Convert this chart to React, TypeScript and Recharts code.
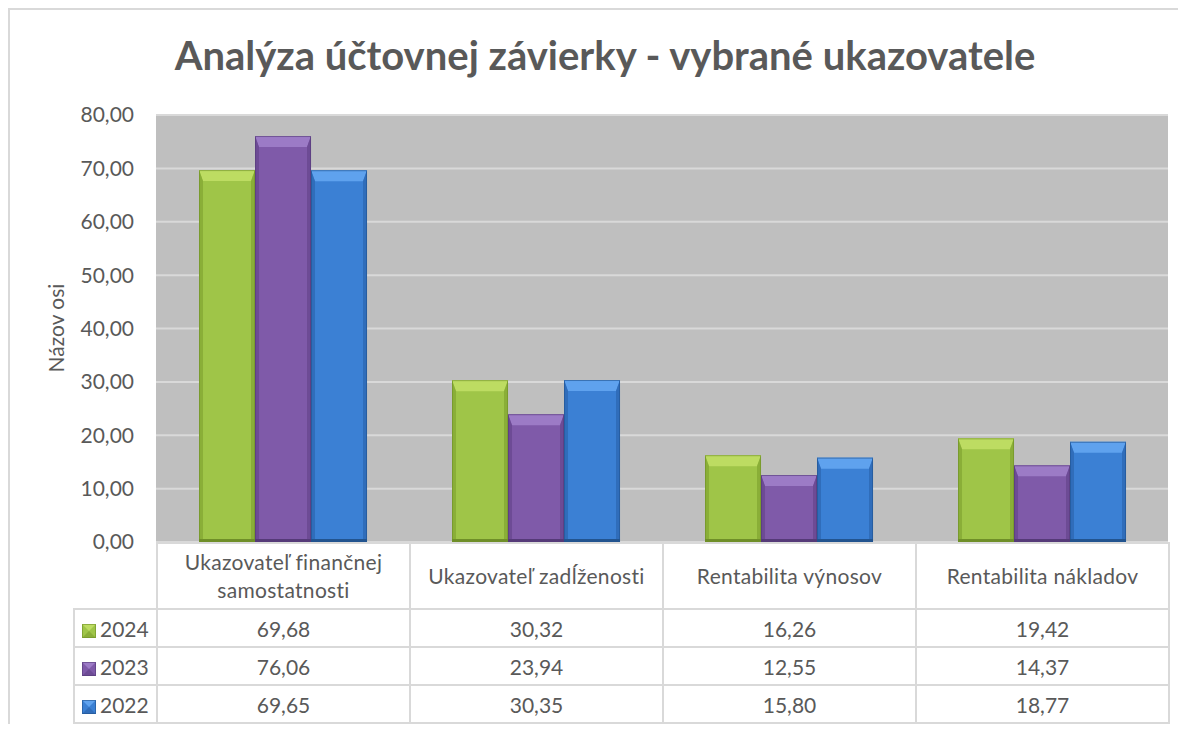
import React from 'react';
import { BarChart, Bar, XAxis, YAxis, CartesianGrid } from 'recharts';

const CATEGORIES = [
  'Ukazovateľ finančnej samostatnosti',
  'Ukazovateľ zadĺženosti',
  'Rentabilita výnosov',
  'Rentabilita nákladov',
];
const YEARS = ['2024', '2023', '2022'];
const VALUES_2024 = [69.68, 30.32, 16.26, 19.42];
const VALUES_2023 = [76.06, 23.94, 12.55, 14.37];
const VALUES_2022 = [69.65, 30.35, 15.8, 18.77];
const Y_TICKS = [0, 10, 20, 30, 40, 50, 60, 70, 80];

const SERIES = [
  { key: 'y2024', year: YEARS[0], values: VALUES_2024, body: '#9fc548', top: '#bddc62', side: '#8aae38', dark: '#6f8f28' },
  { key: 'y2023', year: YEARS[1], values: VALUES_2023, body: '#7f5aa9', top: '#9c7bc6', side: '#6d4b95', dark: '#553a78' },
  { key: 'y2022', year: YEARS[2], values: VALUES_2022, body: '#3b80d4', top: '#5fa2ee', side: '#306dba', dark: '#22548f' },
];

const data = CATEGORIES.map((name, i) => {
  const row: any = { name };
  SERIES.forEach((s) => (row[s.key] = s.values[i]));
  return row;
});

const fmt = (v: number) => v.toFixed(2).replace('.', ',');
const TEXT = '#595959';
const FONT = 'Lato, "Open Sans", sans-serif';
const BORDER = '#d9d9d9';

const BevelBar = ({ x, y, width, height, c }: any) => {
  if (!height || height <= 0) return null;
  const b = Math.min(11, height / 2);
  const s = 4;
  return (
    <g>
      <rect x={x} y={y} width={width} height={height} fill={c.body} />
      <polygon points={`${x},${y} ${x + width},${y} ${x + width - s},${y + b} ${x + s},${y + b}`} fill={c.top} />
      <polygon points={`${x},${y} ${x + s},${y + b} ${x + s},${y + height - 3} ${x},${y + height}`} fill={c.side} />
      <polygon points={`${x + width},${y} ${x + width - s},${y + b} ${x + width - s},${y + height - 3} ${x + width},${y + height}`} fill={c.side} />
      <rect x={x} y={y + height - 3} width={width} height={3} fill={c.dark} />
      <rect x={x + 0.5} y={y + 0.5} width={width - 1} height={height - 1} fill="none" stroke={c.dark} strokeOpacity={0.6} />
    </g>
  );
};

const Marker = ({ c }: any) => (
  <svg width={14} height={14} style={{ verticalAlign: 'middle', marginRight: 4 }}>
    <rect x={0} y={0} width={14} height={14} fill={c.body} />
    <polygon points="0,0 14,0 7,7" fill={c.top} />
    <polygon points="0,14 14,14 7,7" fill={c.side} />
    <rect x={0.5} y={0.5} width={13} height={13} fill="none" stroke={c.dark} strokeOpacity={0.6} />
  </svg>
);

const cell: React.CSSProperties = {
  border: `2px solid ${BORDER}`,
  textAlign: 'center',
  padding: 0,
  color: TEXT,
};

export default function App() {
  return (
    <div
      style={{
        position: 'relative',
        width: 1177,
        height: 714,
        borderTop: `2px solid ${BORDER}`,
        borderLeft: `2px solid ${BORDER}`,
        fontFamily: FONT,
        background: '#fff',
      }}
    >
      <div
        style={{
          position: 'absolute',
          left: 0,
          top: 21,
          width: 1190,
          textAlign: 'center',
          fontSize: 40,
          fontWeight: 700,
          color: TEXT,
          lineHeight: '48px',
        }}
      >
        Analýza účtovnej závierky - vybrané ukazovatele
      </div>
      <div
        style={{
          position: 'absolute',
          left: 46 - 60,
          top: 318 - 13,
          width: 120,
          height: 26,
          lineHeight: '26px',
          textAlign: 'center',
          fontSize: 21,
          color: TEXT,
          transform: 'rotate(-90deg)',
        }}
      >
        Názov osi
      </div>
      <div style={{ position: 'absolute', left: 0, top: 0 }}>
        <BarChart
          width={1176}
          height={560}
          data={data}
          margin={{ top: 105, right: 18, left: 0, bottom: 28 }}
          barCategoryGap="17%"
          barGap={0}
        >
          <CartesianGrid vertical={false} stroke={BORDER} strokeWidth={2} fill="#bfbfbf" fillOpacity={1} />
          <XAxis dataKey="name" hide height={0} />
          <YAxis
            width={146}
            domain={[0, 80]}
            ticks={Y_TICKS}
            interval={0}
            axisLine={false}
            tickLine={false}
            tickSize={20}
            tickFormatter={fmt}
            tick={{ fill: TEXT, fontSize: 21, fontFamily: FONT }}
          />
          {SERIES.map((s) => (
            <Bar
              key={s.key}
              dataKey={s.key}
              isAnimationActive={false}
              shape={(p: any) => <BevelBar {...p} c={s} />}
            />
          ))}
        </BarChart>
      </div>
      <table
        style={{
          position: 'absolute',
          left: 63,
          top: 532,
          borderCollapse: 'collapse',
          fontSize: 21,
          fontFamily: FONT,
          tableLayout: 'fixed',
        }}
      >
        <colgroup>
          <col style={{ width: 83 }} />
          {CATEGORIES.map((c) => (
            <col key={c} style={{ width: 253 }} />
          ))}
        </colgroup>
        <tbody>
          <tr style={{ height: 66 }}>
            <td style={{ border: 'none', borderRight: `2px solid ${BORDER}` }} />
            {CATEGORIES.map((c) => (
              <td key={c} style={{ ...cell, lineHeight: '28px', padding: '0 2px', letterSpacing: 0.3 }}>
                {c}
              </td>
            ))}
          </tr>
          {SERIES.map((s) => (
            <tr key={s.key} style={{ height: 38 }}>
              <td style={{ ...cell, textAlign: 'left', paddingLeft: 7, whiteSpace: 'nowrap' }}>
                <Marker c={s} />
                {s.year}
              </td>
              {s.values.map((v, i) => (
                <td key={i} style={cell}>
                  {fmt(v)}
                </td>
              ))}
            </tr>
          ))}
        </tbody>
      </table>
    </div>
  );
}
